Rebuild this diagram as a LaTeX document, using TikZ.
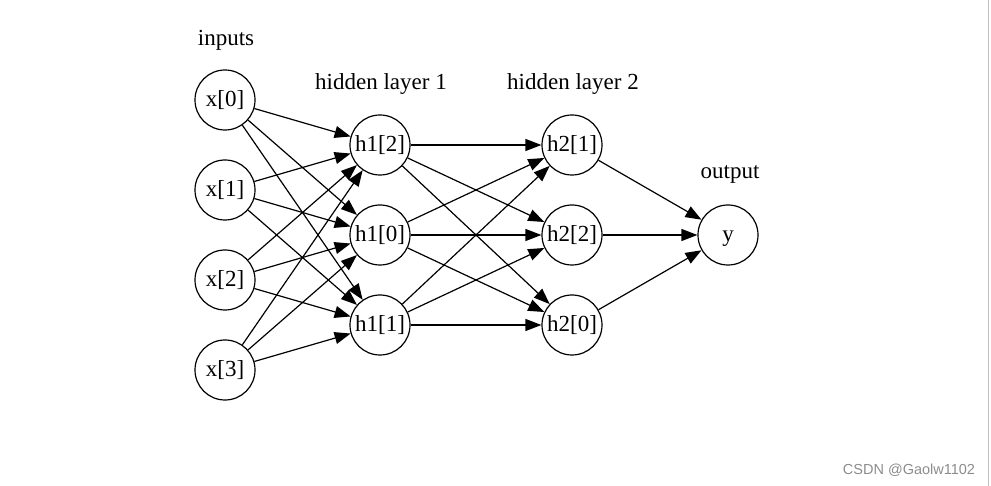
\documentclass[tikz,border=0pt]{standalone}
\usepackage{fontspec}
\setmainfont{Liberation Serif}
\newfontfamily\marksans{Liberation Sans}
\usetikzlibrary{arrows.meta}

\begin{document}
\begin{tikzpicture}[x=1pt, y=-1pt,
    neuron/.style={draw, circle, line width=1.2pt, minimum size=60pt, inner sep=0pt,
      text height=17pt, text depth=3pt, font=\fontsize{23}{26}\selectfont},
    layertitle/.style={font=\fontsize{23}{26}\selectfont},
    link/.style={-{Triangle[length=16pt, width=12pt]}, line width=1.2pt}]
      % Page frame
      \useasboundingbox (0,0) rectangle (991,486);
      \draw[black!25, line width=1.5pt] (988.5,0) -- (988.5,486);

      % Layer titles
      \node[layertitle] (tin) at (226, 40) {inputs};
      \node[layertitle] (th1) at (381, 84) {hidden layer 1};
      \node[layertitle] (th2) at (573, 84) {hidden layer 2};
      \node[layertitle] (tout) at (730, 174) {output};

      % Input nodes
      \node[neuron] (x0) at (225, 100) {x[0]};
      \node[neuron] (x1) at (225, 190) {x[1]};
      \node[neuron] (x2) at (225, 280) {x[2]};
      \node[neuron] (x3) at (225, 370) {x[3]};

      % Hidden layer 1
      \node[neuron] (h12) at (380, 145) {h1[2]};
      \node[neuron] (h10) at (380, 235) {h1[0]};
      \node[neuron] (h11) at (380, 325) {h1[1]};

      % Hidden layer 2
      \node[neuron] (h21) at (572, 145) {h2[1]};
      \node[neuron] (h22) at (572, 235) {h2[2]};
      \node[neuron] (h20) at (572, 325) {h2[0]};

      % Output node
      \node[neuron] (y) at (728, 235) {y};

      % Connections
      \foreach \i in {0,1,2,3}
        \foreach \j in {2,0,1}
          \draw[link] (x\i) -- (h1\j);
      \foreach \i in {2,0,1}
        \foreach \j in {1,2,0}
          \draw[link] (h1\i) -- (h2\j);
      \foreach \i in {1,2,0}
        \draw[link] (h2\i) -- (y);

      % Watermark
      \node[text=black!45, font=\marksans\fontsize{14.5}{16}\selectfont] (mark) at (909, 470) {CSDN @Gaolw1102};
    \end{tikzpicture}
\end{document}
